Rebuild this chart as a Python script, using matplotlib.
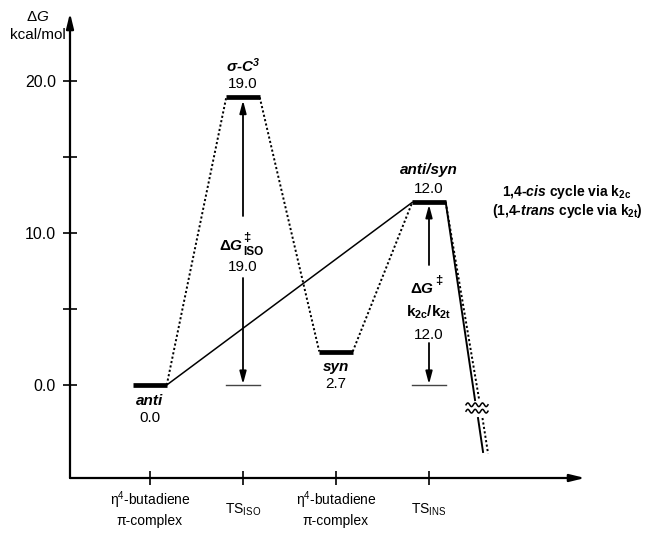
import matplotlib
matplotlib.use("Agg")
import matplotlib.pyplot as plt
import numpy as np

plt.rcParams.update({
    "font.family": ["Liberation Sans", "DejaVu Sans"],
    "mathtext.fontset": "custom",
    "mathtext.rm": "Liberation Sans",
    "mathtext.it": "Liberation Sans:italic:bold",
    "mathtext.bf": "Liberation Sans:bold",
    "mathtext.sf": "Liberation Sans:italic",
    "mathtext.default": "regular",
})

# ---------------- data ----------------
state_names = ["anti", "σ-C$^{3}$", "syn", "anti/syn"]
state_x = [1, 2, 3, 4]
state_E = [0.0, 18.9, 2.2, 12.0]          # drawn level
state_value_labels = ["0.0", "19.0", "2.7", "12.0"]
label_above = [False, True, False, True]

dotted_path = [0, 1, 2, 3]   # anti -> sigma-C3 -> syn -> anti/syn
solid_path = [0, 3]          # anti -> anti/syn

x_tick_pos = [1, 2, 3, 4]
x_tick_line1 = ["η$^{4}$-butadiene", "TS$_{ISO}$", "η$^{4}$-butadiene", "TS$_{INS}$"]
x_tick_line2 = ["π-complex", "", "π-complex", ""]
y_ticks = [0, 5, 10, 15, 20]
y_tick_labels = ["0.0", "", "10.0", "", "20.0"]

barrier_x = [2, 4]
barrier_values = ["19.0", "12.0"]
barrier_subscripts = ["ISO", ""]

# descending exit lines (schematic, with axis break)
exit_solid_x = [[4.18, 4.495], [4.527, 4.581]]
exit_solid_E = [[12.0, -0.99], [-2.17, -4.40]]
exit_dot_x = [[4.18, 4.54], [4.575, 4.635]]
exit_dot_E = [[12.0, -0.99], [-2.17, -4.50]]

# ---------------- layout ----------------
W, H = 645, 533
fig = plt.figure(figsize=(W / 100, H / 100), dpi=100)
px2x = lambda p: (p - 57) / 93.0
py2E = lambda p: (385 - p) / 15.22
ax = fig.add_axes([70 / W, (H - 478) / H, (585 - 70) / W, (478 - 13) / H])
ax.set_xlim(px2x(70), px2x(585))
ax.set_ylim(py2E(478), py2E(13))
for s in ax.spines.values():
    s.set_visible(False)

# axes with arrows
ap = dict(arrowstyle="-|>,head_length=0.9,head_width=0.22", lw=1.6, color="black",
          shrinkA=0, shrinkB=0)
ax.annotate("", xy=(1, 0), xytext=(0, 0), xycoords="axes fraction", arrowprops=ap,
            annotation_clip=False)
ax.annotate("", xy=(0, 1), xytext=(0, 0), xycoords="axes fraction", arrowprops=ap,
            annotation_clip=False)

ax.set_yticks(y_ticks, y_tick_labels)
ax.tick_params(axis="y", direction="inout", length=10, width=1.2, pad=5.0, labelsize=11.5)
ax.set_xticks(x_tick_pos, [""] * len(x_tick_pos))
ax.tick_params(axis="x", direction="inout", length=10, width=1.2)

for xp, l1, l2 in zip(x_tick_pos, x_tick_line1, x_tick_line2):
    if l2:
        ax.text(xp, py2E(500), l1, ha="center", va="center", fontsize=10, clip_on=False)
        ax.text(xp, py2E(521), l2, ha="center", va="center", fontsize=10, clip_on=False)
    else:
        ax.text(xp, py2E(510), l1, ha="center", va="center", fontsize=10, clip_on=False)

# y axis label
ax.text(px2x(38), py2E(17), "Δ$\\mathsf{G}$", ha="center", va="center", fontsize=11, clip_on=False)
ax.text(px2x(38), py2E(35), "kcal/mol", ha="center", va="center", fontsize=11, clip_on=False)

hw = 0.18
# connecting lines
for a, b in zip(dotted_path[:-1], dotted_path[1:]):
    ax.plot([state_x[a] + hw, state_x[b] - hw], [state_E[a], state_E[b]],
            color="black", lw=1.4, ls=(0, (1.1, 1.2)), solid_capstyle="butt")
for a, b in zip(solid_path[:-1], solid_path[1:]):
    ax.plot([state_x[a] + hw, state_x[b] - hw], [state_E[a], state_E[b]],
            color="black", lw=1.1)

# exit lines
for xs, es in zip(exit_solid_x, exit_solid_E):
    ax.plot(xs, es, color="black", lw=1.4)
for xs, es in zip(exit_dot_x, exit_dot_E):
    ax.plot(xs, es, color="black", lw=1.4, ls=(0, (1.1, 1.2)))
# break symbol
for y0 in [-1.30, -1.72]:
    xw = np.linspace(px2x(466), px2x(488), 80)
    yw = y0 + 0.12 * np.sin(2 * np.pi * (xw - xw[0]) / ((xw[-1] - xw[0]) / 3))
    ax.plot(xw, yw, color="black", lw=1.1)

# level bars
for xs, e in zip(state_x, state_E):
    ax.plot([xs - hw, xs + hw], [e, e], color="black", lw=3.4, solid_capstyle="butt")

# state labels
for xs, e, name, val, up in zip(state_x, state_E, state_names, state_value_labels, label_above):
    if up:
        o_name, o_val = 23, 9.5
    else:
        o_name, o_val = -11.5, -23.5
    ax.annotate(name, (xs, e), xytext=(0, o_name), textcoords="offset points",
                ha="center", va="center", fontsize=11, fontweight="bold", fontstyle="italic")
    ax.annotate(val, (xs, e), xytext=(0, o_val), textcoords="offset points",
                ha="center", va="center", fontsize=11)

# barrier arrows
aa = dict(arrowstyle="-|>,head_length=0.75,head_width=0.2", lw=1.3, color="black",
          shrinkA=0, shrinkB=0)


def dg_label(xc_px, base_py, sub):
    """Compose ΔG‡ with optional subscript, centred at xc_px (pixels)."""
    right_w = 19 if sub else 6
    x_split = xc_px + (19 - right_w) / 2.0
    yb = py2E(base_py)
    t = ax.text(px2x(x_split), yb, "Δ$\\mathit{G}$", ha="right", va="baseline",
                fontsize=11, fontweight="bold")
    ax.annotate("‡", xy=(1.0, yb), xycoords=(t, "data"), xytext=(0.3, 6.5),
                textcoords="offset points", ha="left", va="baseline",
                fontsize=9.5, fontweight="bold")
    if sub:
        ax.annotate(sub, xy=(1.0, yb), xycoords=(t, "data"), xytext=(0.3, -3.8),
                    textcoords="offset points", ha="left", va="baseline",
                    fontsize=8.5, fontweight="bold")


# TS_ISO
bx = barrier_x[0]
top = state_E[1]
ax.plot([bx - hw, bx + hw], [0, 0], color="#444444", lw=1.0)
ax.annotate("", xy=(bx, top - 0.2), xytext=(bx, py2E(216)), arrowprops=aa)
ax.annotate("", xy=(bx, 0.05), xytext=(bx, py2E(278)), arrowprops=aa)
dg_label(243, 250, barrier_subscripts[0])
ax.text(bx, py2E(267), barrier_values[0], ha="center", va="center", fontsize=11)

# TS_INS
bx = barrier_x[1]
top = state_E[3]
ax.plot([bx - hw, bx + hw], [0, 0], color="#444444", lw=1.0)
ax.annotate("", xy=(bx, top - 0.15), xytext=(bx, py2E(265)), arrowprops=aa)
ax.annotate("", xy=(bx, 0.05), xytext=(bx, py2E(343)), arrowprops=aa)
dg_label(428, 293, barrier_subscripts[1])
ax.text(bx, py2E(312), "k$_{2c}$/k$_{2t}$", ha="center", va="center",
        fontsize=11, fontweight="bold")
ax.text(bx, py2E(335), barrier_values[1], ha="center", va="center", fontsize=11)

# right annotation
ax.text(px2x(567), py2E(192), "1,4-$\\mathit{cis}$ cycle via k$_{2c}$", ha="center",
        va="center", fontsize=10, fontweight="bold", clip_on=False)
ax.text(px2x(567), py2E(211), "(1,4-$\\mathit{trans}$ cycle via k$_{2t}$)", ha="center",
        va="center", fontsize=10, fontweight="bold", clip_on=False)

fig.savefig("out.png", dpi=100)
